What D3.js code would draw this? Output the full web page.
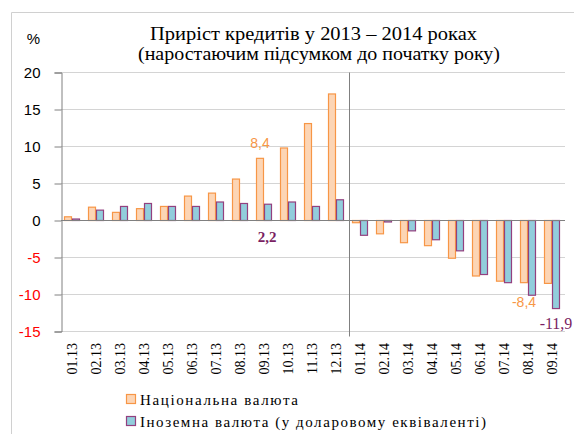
<!DOCTYPE html>
<html lang="uk">
<head>
<meta charset="utf-8">
<title>Приріст кредитів у 2013 – 2014 роках</title>
<script src="https://d3js.org/d3.v7.min.js"></script>
<style>
    body { margin: 0; background: #fff; }
    svg { display: block; }
    .serif { font-family: "Liberation Serif", "DejaVu Serif", "Times New Roman", serif; }
    .sans { font-family: "Liberation Sans", Arial, sans-serif; }
</style>
</head>
<body>
<svg id="chart" width="574" height="434"></svg>
<script>
// data
const months = ["01.13", "02.13", "03.13", "04.13", "05.13", "06.13", "07.13", "08.13", "09.13", "10.13", "11.13", "12.13",
                "01.14", "02.14", "03.14", "04.14", "05.14", "06.14", "07.14", "08.14", "09.14"];
const national = [0.5, 1.8, 1.1, 1.6, 1.9, 3.3, 3.7, 5.6, 8.4, 9.8, 13.1, 17.1,
                  -0.3, -1.8, -3.0, -3.4, -5.1, -7.5, -8.2, -8.4, -8.5];
const foreign = [0.2, 1.4, 1.9, 2.3, 1.9, 1.9, 2.5, 2.3, 2.2, 2.5, 1.9, 2.8,
                 -2.0, -0.2, -1.4, -2.6, -4.1, -7.3, -8.4, -10.1, -11.9];
const yTicks = [20, 15, 10, 5, 0, -5, -10, -15];
const seriesNames = ["Національна валюта", "Іноземна валюта (у доларовому еквіваленті)"];
const titleLines = ["Приріст кредитів у 2013 – 2014 роках", "(наростаючим підсумком до початку року)"];

const orange = { fill: "#fcd5b5", stroke: "#f79646" };
const blue = { fill: "#92cddc", stroke: "#93407f" };
const purpleText = "#7b1f63";

const fmt = v => v.toFixed(1).replace(".", ",");

const svg = d3.select("#chart");

// outer chart frame
svg.append("path")
    .attr("d", "M11.5,434 V12.5 H574")
    .attr("fill", "none")
    .attr("stroke", "#d0d0d0");

// title (widths fitted to the original)
const titleBox = [{ x: 150, w: 327 }, { x: 138, w: 362 }];
svg.append("g").selectAll("text")
    .data(titleLines)
    .enter().append("text")
    .attr("class", "serif")
    .attr("x", (d, i) => titleBox[i].x)
    .attr("y", (d, i) => 40 + i * 20)
    .attr("font-size", 19)
    .attr("textLength", (d, i) => titleBox[i].w)
    .attr("lengthAdjust", "spacingAndGlyphs")
    .text(d => d);

// scales
const x = d3.scaleBand().domain(months).range([61, 565]);
const y = d3.scaleLinear().domain([-15, 20]).range([331.5, 72.5]);

// gridlines
svg.append("g").selectAll("line")
    .data(yTicks.filter(d => d !== 0))
    .enter().append("line")
    .attr("x1", 61).attr("x2", 565)
    .attr("y1", d => y(d)).attr("y2", d => y(d))
    .attr("stroke", "#d4d4d4");

// y axis
const yAxis = svg.append("g")
    .attr("transform", "translate(61.5,0)")
    .call(d3.axisLeft(y).tickValues(yTicks).tickSize(7).tickPadding(14).tickFormat(d3.format("d")));
yAxis.select(".domain").attr("stroke", "#808080");
yAxis.selectAll(".tick line").attr("stroke", "#808080");
yAxis.selectAll(".tick text")
    .attr("class", "sans")
    .attr("font-size", 15)
    .attr("fill", d => d < 0 ? "#ff0000" : "#000")
    .text(d => d < 0 ? "-" + Math.abs(d) : d);

svg.append("text")
    .attr("class", "sans")
    .attr("x", 40).attr("y", 44)
    .attr("text-anchor", "end")
    .attr("font-size", 15)
    .text("%");

// bars
const bars = svg.append("g");
bars.selectAll("rect.nat")
    .data(months)
    .enter().append("rect")
    .attr("class", "nat")
    .attr("x", d => x(d) + 3.5)
    .attr("width", 7)
    .attr("y", (d, i) => y(Math.max(0, national[i])))
    .attr("height", (d, i) => Math.abs(y(national[i]) - y(0)))
    .attr("fill", orange.fill)
    .attr("stroke", orange.stroke)
    .attr("stroke-width", 1.2);

bars.selectAll("rect.for")
    .data(months)
    .enter().append("rect")
    .attr("class", "for")
    .attr("x", d => x(d) + 11.5)
    .attr("width", 7)
    .attr("y", (d, i) => y(Math.max(0, foreign[i])))
    .attr("height", (d, i) => Math.abs(y(foreign[i]) - y(0)))
    .attr("fill", blue.fill)
    .attr("stroke", blue.stroke)
    .attr("stroke-width", 1.2);

// zero line
svg.append("line")
    .attr("x1", 61).attr("x2", 565)
    .attr("y1", y(0)).attr("y2", y(0))
    .attr("stroke", "#808080").attr("stroke-width", 1.2);

// separator between years
svg.append("line")
    .attr("x1", x("01.14") + 0.5).attr("x2", x("01.14") + 0.5)
    .attr("y1", y(20)).attr("y2", y(-15) + 5)
    .attr("stroke", "#808080");

// x labels
svg.append("g").selectAll("text")
    .data(months)
    .enter().append("text")
    .attr("class", "serif")
    .attr("font-size", 14)
    .attr("text-anchor", "end")
    .attr("transform", d => `translate(${x(d) + x.bandwidth() / 2 + 4},343) rotate(-90)`)
    .text(d => d);

// value labels
const natLabel = (i, dy) => svg.append("text")
    .attr("class", "sans")
    .attr("font-size", 14)
    .attr("fill", orange.stroke)
    .attr("text-anchor", "middle")
    .attr("x", x(months[i]) + 7)
    .attr("y", y(national[i]) + dy)
    .text(fmt(national[i]));
natLabel(8, -10);
natLabel(19, 24);

svg.append("text")
    .attr("class", "serif")
    .attr("font-size", 15)
    .attr("font-weight", "bold")
    .attr("fill", purpleText)
    .attr("text-anchor", "middle")
    .attr("x", x(months[8]) + 14)
    .attr("y", 242)
    .text(fmt(foreign[8]));

svg.append("text")
    .attr("class", "serif")
    .attr("font-size", 16)
    .attr("fill", purpleText)
    .attr("text-anchor", "middle")
    .attr("x", x(months[20]) + 15)
    .attr("y", y(foreign[20]) + 20)
    .text(fmt(foreign[20]));

// legend
const legendWidths = [158, 346];
const legend = svg.append("g").selectAll("g")
    .data(seriesNames)
    .enter().append("g")
    .attr("transform", (d, i) => `translate(126,${394 + i * 22})`);
legend.append("rect")
    .attr("x", 0.5).attr("y", 0.5)
    .attr("width", 9).attr("height", 9)
    .attr("fill", (d, i) => i === 0 ? orange.fill : blue.fill)
    .attr("stroke", (d, i) => i === 0 ? orange.stroke : blue.stroke)
    .attr("stroke-width", 1.2);
legend.append("text")
    .attr("class", "serif")
    .attr("x", 14).attr("y", 11)
    .attr("font-size", 15)
    .attr("textLength", (d, i) => legendWidths[i])
    .attr("lengthAdjust", "spacing")
    .text(d => d);
</script>
</body>
</html>
